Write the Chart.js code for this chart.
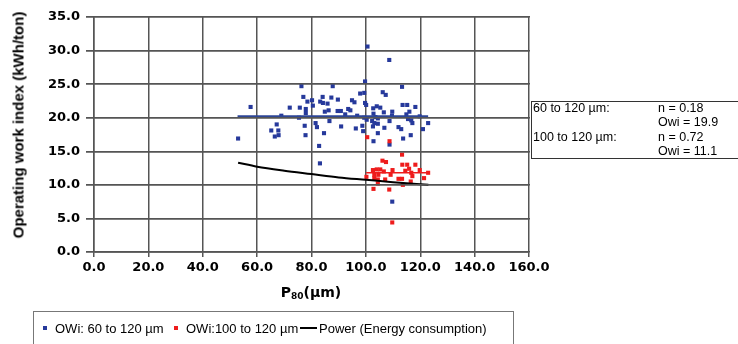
<!DOCTYPE html>
<html>
<head>
<meta charset="utf-8">
<script src="https://cdn.jsdelivr.net/npm/chart.js@4.4.1/dist/chart.umd.min.js"></script>
<style>
  html, body { margin: 0; padding: 0; background: #fff; }
  #wrap { width: 738px; height: 344px; position: relative; overflow: hidden; }
  #owi-chart { position: absolute; left: 0; top: 0; }
  .ytitle { position: absolute; left: 18px; top: 125px; transform: translate(-50%, -50%) rotate(-90deg);
            white-space: nowrap; font: bold 15px "Liberation Sans", Arial, sans-serif; color: #000; }
  .xtitle { position: absolute; left: 311px; top: 284px; transform: translateX(-50%);
            white-space: nowrap; font: bold 14px "DejaVu Sans", sans-serif; color: #000; }
  .xtitle sub { font-size: 9px; vertical-align: -2px; }
  .fitbox { position: absolute; left: 531px; top: 101px; width: 215px; height: 56px; border: 1px solid #333;
            font: 12.5px "Liberation Sans", Arial, sans-serif; color: #000; }
  .fitbox div { position: absolute; white-space: nowrap; line-height: 14px; }
  .legend { position: absolute; left: 33px; top: 311px; width: 479px; height: 40px; border: 1px solid #777;
            font: 13px "Liberation Sans", Arial, sans-serif; color: #000; }
  .legend span { position: absolute; top: 9px; white-space: nowrap; line-height: 15px; }
  .legend i { position: absolute; top: 15px; display: block; }
</style>
</head>
<body>
<div id="wrap">
  <canvas id="owi-chart" width="738" height="344"></canvas>
  <div class="ytitle" id="ytitle"></div>
  <div class="xtitle">P<sub>80</sub>(µm)</div>
  <div class="fitbox" id="fitbox"></div>
  <div class="legend" id="legend"></div>
</div>
<script>
// OWi vs P80 scatter
const xTicks = [0, 20, 40, 60, 80, 100, 120, 140, 160];
const yTicks = [0, 5, 10, 15, 20, 25, 30, 35];

// OWi: 60 to 120 um (blue)
const blueX = [53.0, 57.6, 65.2, 66.5, 67.2, 67.8, 67.9, 68.9, 72.0, 75.4, 75.7, 76.3, 77.0, 77.5, 77.8, 77.9, 77.9, 78.5, 80.2, 80.5,
               81.5, 82.0, 82.8, 83.1, 83.2, 84.1, 84.2, 84.6, 84.9, 85.9, 86.3, 86.6, 87.3, 87.8, 89.6, 89.7, 90.8, 90.9, 92.4, 93.5,
               94.3, 94.9, 95.8, 96.3, 96.8, 97.9, 98.7, 99.0, 99.4, 99.4, 99.7, 99.7, 100.1, 100.3, 100.6, 102.3, 102.6, 102.7, 102.8, 102.8,
               103.1, 103.5, 104.0, 104.4, 104.4, 104.4, 105.3, 106.2, 106.6, 106.8, 107.3, 108.6, 108.7, 108.7, 109.6, 109.7, 109.7, 112.0, 113.0, 113.3,
               113.5, 113.7, 114.9, 115.2, 115.5, 116.0, 116.5, 116.7, 117.1, 118.2, 119.8, 121.0, 122.9];
const blueY = [16.9, 21.6, 18.1, 17.2, 19.0, 18.1, 17.4, 20.3, 21.5, 20.0, 21.5, 24.7, 23.1, 18.8, 17.4, 21.3, 20.7, 22.4, 22.6, 21.8,
               19.2, 18.6, 15.8, 13.2, 22.4, 23.1, 22.2, 17.7, 20.9, 22.1, 21.1, 19.5, 23.0, 24.7, 21.0, 22.7, 21.0, 18.7, 20.5, 21.3,
               21.1, 22.6, 22.3, 18.4, 20.3, 23.6, 18.8, 18.0, 23.7, 20.0, 25.4, 22.2, 21.9, 19.7, 30.6, 19.5, 18.7, 21.4, 20.6, 16.5,
               19.2, 20.1, 21.7, 19.9, 19.1, 17.7, 21.5, 23.8, 20.8, 18.5, 23.4, 28.6, 19.5, 16.0, 20.3, 20.9, 7.5, 18.6, 18.3, 24.6,
               21.9, 16.9, 20.5, 21.9, 19.8, 20.9, 17.4, 19.6, 19.2, 21.6, 20.2, 18.3, 19.2];

// OWi: 100 to 120 um (red)
const redX = [100.5, 108.7, 113.3, 106.1, 107.4, 113.4, 115.2, 118.2, 102.6, 104.0, 105.3, 109.8, 106.6, 115.9, 114.5, 119.8, 122.9, 116.7,
              103.1, 104.6, 109.1, 103.1, 104.4, 100.2, 107.1, 112.0, 113.3, 116.5, 121.4, 113.6, 104.4, 102.8, 108.6, 109.7, 117.1];
const redY = [17.1, 16.5, 14.5, 13.6, 13.4, 13.0, 13.0, 13.0, 12.2, 12.3, 12.3, 12.2, 12.0, 12.4, 12.1, 12.2, 11.8, 11.8,
              11.5, 11.5, 11.5, 11.0, 10.8, 11.2, 10.8, 10.9, 10.9, 10.5, 11.0, 10.0, 10.2, 9.4, 9.3, 4.4, 11.3];

// fitted levels
const blueFitX = [52.8, 122.9];
const blueFitY = [20.2, 20.2];
const redFitX = [100.1, 122.9];
const redFitY = [11.8, 11.8];

// Power (Energy consumption)
const powerX = [53, 60, 70, 80, 90, 100, 110, 123];
const powerY = [13.3, 12.7, 12.1, 11.6, 11.1, 10.75, 10.4, 10.0];

const yTitle = 'Operating work index (kWh/ton)';
const legendLabels = ['OWi: 60 to 120 µm', 'OWi:100 to 120 µm', 'Power (Energy consumption)'];
const boxRows = [
    ['60 to 120 µm:', 'n = 0.18'],
    ['', 'Owi = 19.9'],
    ['100 to 120 µm:', 'n = 0.72'],
    ['', 'Owi = 11.1']
];

const BLUE = '#26399b';
const RED = '#ee1c1c';

function pts(xs, ys) {
    return xs.map((x, i) => ({ x: x, y: ys[i] }));
}

// texts around the plot
document.getElementById('ytitle').textContent = yTitle;

const fitbox = document.getElementById('fitbox');
boxRows.forEach((row, i) => {
    const top = i * 14.3 - 1;
    fitbox.insertAdjacentHTML('beforeend',
        `<div style="left:1px;top:${top}px">${row[0]}</div><div style="left:126px;top:${top}px">${row[1]}</div>`);
});

const legend = document.getElementById('legend');
legend.innerHTML = `
    <i style="left:9px;width:4px;height:4px;top:14px;background:${BLUE}"></i>
    <span style="left:21px">${legendLabels[0]}</span>
    <i style="left:140px;width:4px;height:4px;top:14px;background:${RED}"></i>
    <span style="left:152px">${legendLabels[1]}</span>
    <i style="left:266px;width:17px;height:2px;top:15px;background:#000"></i>
    <span style="left:285px">${legendLabels[2]}</span>
`;

const tickFont = { family: '"DejaVu Sans", sans-serif', size: 13, weight: 'bold' };
const gridCol = '#555';

// horizontal grid + tick marks taken from the y scale, drawn last so nothing hides them
const yGridPlugin = {
    id: 'yGrid',
    afterDraw(chart) {
        const ctx = chart.ctx;
        const area = chart.chartArea;
        const yScale = chart.scales.y;
        ctx.save();
        ctx.setTransform(1, 0, 0, 1, 0, 0);
        ctx.globalCompositeOperation = 'source-over';
        ctx.globalAlpha = 1;
        ctx.fillStyle = gridCol;
        yTicks.forEach(v => {
            const py = Math.round(yScale.getPixelForValue(v) - 0.75);
            ctx.fillRect(area.left - 8, py, area.right - area.left + 9, 1.5);
        });
        ctx.restore();
    }
};

new Chart(document.getElementById('owi-chart'), {
    type: 'scatter',
    data: {
        datasets: [
            { label: 'blueFit', data: pts(blueFitX, blueFitY), showLine: true, borderColor: '#2c4596', borderWidth: 2, pointRadius: 0, order: 1 },
            { label: 'redFit', data: pts(redFitX, redFitY), showLine: true, borderColor: RED, borderWidth: 1.5, pointRadius: 0, order: 1 },
            { label: legendLabels[2], data: pts(powerX, powerY), showLine: true, borderColor: '#000', borderWidth: 2, pointRadius: 0, cubicInterpolationMode: 'monotone', order: 0 },
            { label: legendLabels[1], data: pts(redX, redY), pointStyle: 'rect', pointRadius: 2.9, pointBorderWidth: 0, backgroundColor: RED, borderColor: RED, order: 2 },
            { label: legendLabels[0], data: pts(blueX, blueY), pointStyle: 'rect', pointRadius: 2.9, pointBorderWidth: 0, backgroundColor: BLUE, borderColor: BLUE, order: 3 }
        ]
    },
    options: {
        responsive: false,
        animation: false,
        devicePixelRatio: 1,
        layout: { padding: { left: 0, right: 209, top: 17, bottom: 33 } },
        plugins: { legend: { display: false }, tooltip: { enabled: false } },
        scales: {
            x: {
                type: 'linear',
                min: xTicks[0],
                max: xTicks[xTicks.length - 1],
                afterFit: s => { s.height = 59; },
                grid: { color: gridCol, lineWidth: 1.5, tickLength: 5 },
                border: { color: gridCol, width: 1.5 },
                ticks: { stepSize: xTicks[1] - xTicks[0], font: tickFont, color: '#000', padding: 3, maxRotation: 0, callback: v => v.toFixed(1) }
            },
            y: {
                type: 'linear',
                min: yTicks[0],
                max: yTicks[yTicks.length - 1],
                afterFit: s => { s.width = 94; },
                grid: { color: gridCol, lineWidth: 1.5, tickLength: 8 },
                border: { color: gridCol, width: 1.5 },
                ticks: { stepSize: yTicks[1] - yTicks[0], font: tickFont, color: '#000', padding: 6, callback: v => v.toFixed(1) }
            }
        }
    },
    plugins: [yGridPlugin]
});
</script>
</body>
</html>
